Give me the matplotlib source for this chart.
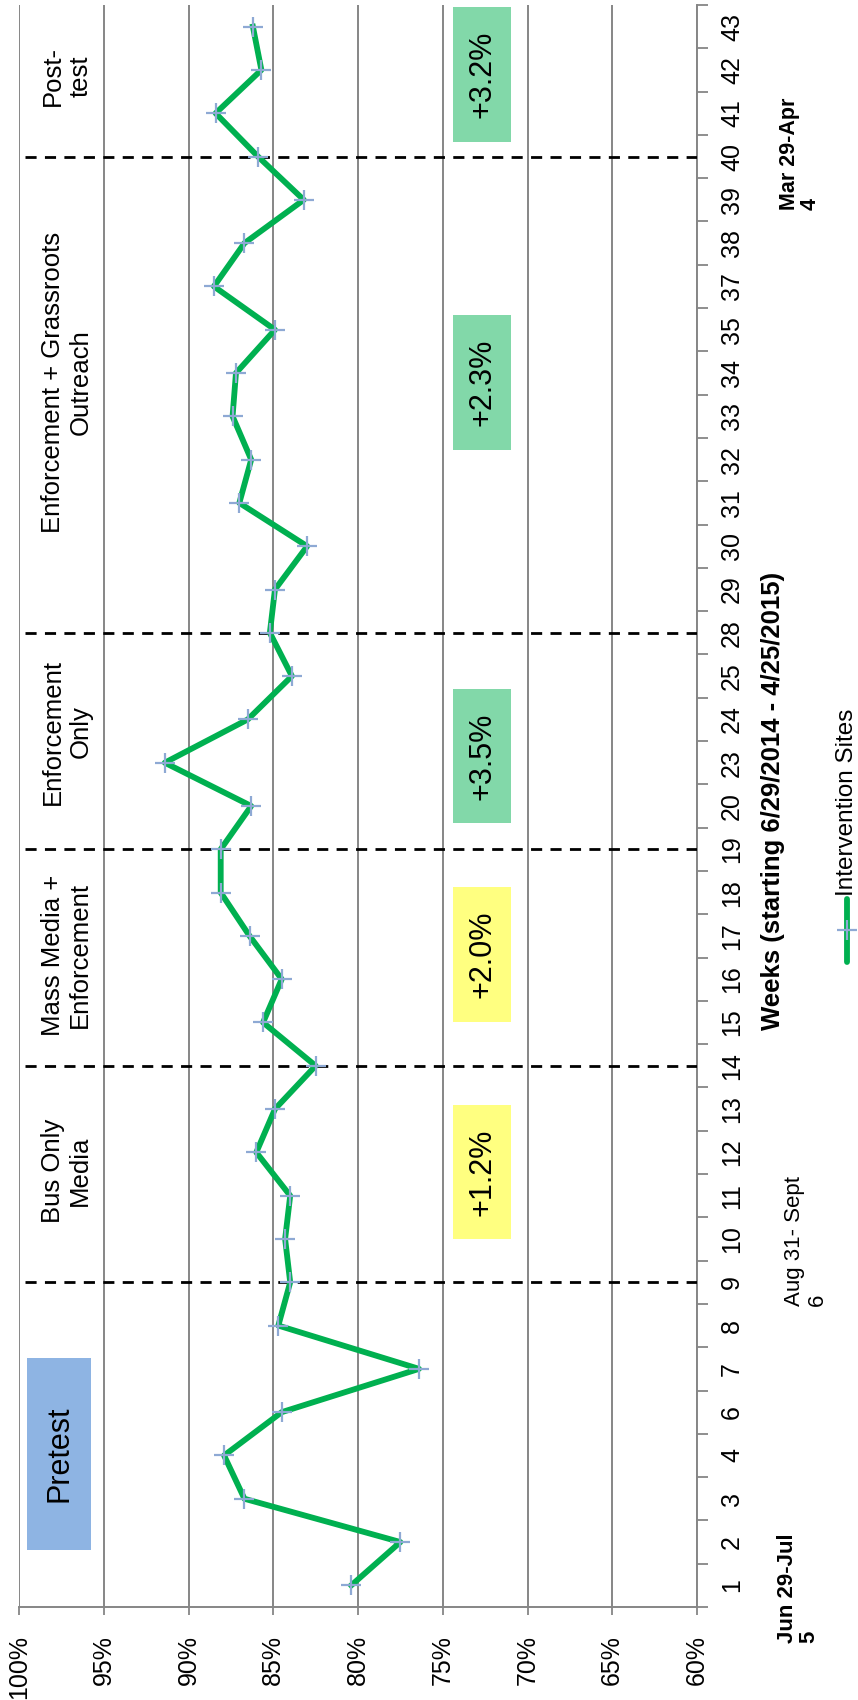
import matplotlib.pyplot as plt
from matplotlib.lines import Line2D
from matplotlib.patches import Rectangle
from matplotlib.ticker import FixedLocator

plt.rcParams['font.family'] = ['Liberation Sans', 'DejaVu Sans']

# weekly observation rate at the intervention sites (%)
weeks = ['1', '2', '3', '4', '6', '7', '8', '9', '10', '11', '12', '13', '14',
         '15', '16', '17', '18', '19', '20', '23', '24', '25', '28', '29', '30',
         '31', '32', '33', '34', '35', '37', '38', '39', '40', '41', '42', '43']
rate = [80.4, 77.5, 86.7, 87.9, 84.5, 76.4, 84.7, 84.0, 84.3, 84.0, 86.0, 84.9,
        82.5, 85.6, 84.5, 86.4, 88.1, 88.1, 86.3, 91.4, 86.5, 83.9, 85.2, 84.9,
        83.0, 87.0, 86.3, 87.4, 87.2, 84.9, 88.5, 86.7, 83.2, 85.9, 88.4, 85.7,
        86.2]
pct_ticks = [100, 95, 90, 85, 80, 75, 70, 65, 60]

# weeks where a new phase starts
phase_breaks = ['9', '14', '19', '28', '40']
phase_names = ['Bus Only\nMedia', 'Mass Media +\nEnforcement', 'Enforcement\nOnly',
               'Enforcement + Grassroots\nOutreach', 'Post-\ntest']
phase_name_pos = [9.57, 14.56, 19.71, 27.79, 34.86]
changes = ['+1.2%', '+2.0%', '+3.5%', '+2.3%', '+3.2%']
change_colors = ['#FFFF80', '#FFFF80', '#82D8A9', '#82D8A9', '#82D8A9']
change_span = [(8.0, 11.1), (13.0, 16.13), (17.6, 20.7), (26.22, 29.34), (33.33, 36.45)]

W, H = 858, 1700
fig = plt.figure(figsize=(W / 100, H / 100), dpi=100)
ax = fig.add_axes([19 / W, 1 - 1607 / H, (697 - 19) / W, (1607 - 5) / H])

pos = list(range(len(weeks)))
ax.plot(rate, pos, color='#00B050', lw=4.2, marker='+', ms=14, mew=1.6,
        mec='#8EA9D4', zorder=4)

ax.set_xlim(100, 60)
ax.set_ylim(-0.5, len(weeks) - 0.5)

# percent axis (bottom)
ax.set_xticks(pct_ticks)
ax.set_xticklabels([f'{p}%' for p in pct_ticks], rotation=90, fontsize=18)
ax.tick_params(axis='x', direction='out', length=6, width=1.3, color='#868686', pad=14)
ax.grid(axis='x', color='#868686', lw=1.4)
ax.set_axisbelow(True)

# week axis (right)
ax.yaxis.tick_right()
ax.set_yticks(pos)
ax.set_yticklabels(weeks, rotation=90, va='center', ha='left', fontsize=18)
ax.yaxis.set_minor_locator(FixedLocator([p - 0.5 for p in pos] + [pos[-1] + 0.5]))
ax.tick_params(axis='y', which='major', length=0, pad=16.5)
ax.tick_params(axis='y', which='minor', direction='out', length=8, width=1.3,
               color='#868686', right=True, left=False)

for side in ['left', 'top']:
    ax.spines[side].set_visible(False)
for side in ['bottom', 'right']:
    ax.spines[side].set_color('#868686')
    ax.spines[side].set_linewidth(1.4)

# phase boundaries
brk = [weeks.index(w) for w in phase_breaks]
ax.hlines(brk, 99.65, 60, colors='black', linestyles=(0, (4, 3)), lw=2, zorder=3)

# phase names
for name, y in zip(phase_names, phase_name_pos):
    ax.text(97.2, y, name, rotation=90, ha='center', va='center', fontsize=18.5,
            multialignment='center', zorder=5)

# change boxes
for lab, col, (y0, y1) in zip(changes, change_colors, change_span):
    ax.add_patch(Rectangle((74.4, y0), -3.45, y1 - y0, facecolor=col,
                           edgecolor='none', zorder=5))
    ax.text(72.68, (y0 + y1) / 2, lab, rotation=90, ha='center', va='center',
            fontsize=22, zorder=6)

# pretest box
ax.add_patch(Rectangle((99.53, 0.82), -3.78, 4.43, facecolor='#8EB4E3',
                       edgecolor='none', zorder=5))
ax.text(97.64, 3.03, 'Pretest', rotation=90, ha='center', va='center',
        fontsize=22, zorder=6)

# axis title and date notes
fig.text(773 / W, 1 - 801 / H, 'Weeks (starting 6/29/2014 - 4/25/2015)',
         rotation=90, ha='center', va='center', fontsize=18.5, fontweight='bold')
fig.text(798 / W, 1 - 1643 / H, 'Jun 29-Jul\n5', rotation=90, ha='center',
         va='bottom', fontsize=16, fontweight='bold', multialignment='left',
         linespacing=1.05)
fig.text(806 / W, 1 - 1306 / H, 'Aug 31- Sept\n6', rotation=90, ha='center',
         va='bottom', fontsize=16, multialignment='left', linespacing=1.1)
fig.text(800 / W, 1 - 210 / H, 'Mar 29-Apr\n4', rotation=90, ha='center',
         va='bottom', fontsize=15.5, fontweight='bold', multialignment='left',
         linespacing=0.95)

# legend
lx = 847 / W
fig.add_artist(Line2D([lx, lx, lx], [1 - 962 / H, 1 - 930 / H, 1 - 899 / H],
                      color='#00B050', lw=4.2, marker='+', ms=14, mew=1.6,
                      mec='#8EA9D4', markevery=[1], solid_capstyle='round'))
fig.text(lx, 1 - 896 / H, 'Intervention Sites', rotation=90, ha='center',
         va='bottom', fontsize=17.5)

fig.savefig('out.png', dpi=100)
